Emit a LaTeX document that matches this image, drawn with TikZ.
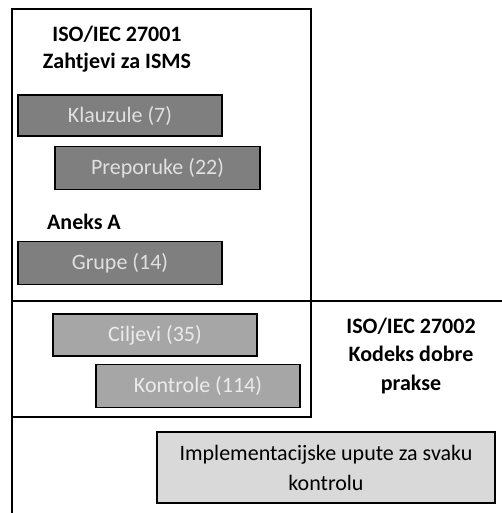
\documentclass[tikz,border=0pt]{standalone}
\usepackage{fontspec}
\setmainfont{Carlito}
\usetikzlibrary{positioning}
\definecolor{tamna}{HTML}{7F7F7F}
\definecolor{srednja}{HTML}{A6A6A6}
\definecolor{svijetla}{HTML}{D9D9D9}
\tikzset{x=1pt, y=-1pt, % pixel-like units, y grows downwards
every node/.style={font=\fontsize{22}{30}\selectfont},
okvir/.style={line width=1.6pt}, % Outer frames of the two standards
naslov/.style={font=\bfseries\fontsize{22}{28.5}\selectfont, align=center},
kutija/.style={ % Sets the properties for each coloured box
draw, line width=1.6pt, minimum width=204pt, minimum height=43pt, inner sep=0pt},
tamnakutija/.style={kutija, fill=tamna, text=white!88!black},
srednjakutija/.style={kutija, fill=srednja, text=white!92!black},
svijetlakutija/.style={kutija, fill=svijetla, text=black, align=center,
minimum width=338pt, minimum height=71pt}}

\begin{document}
\begin{tikzpicture}
    \useasboundingbox (0,0) rectangle (501,513);

    % frames
    \draw[okvir] (12,9) rectangle (311,417);
    \draw[okvir] (12,301) -- (503,301);
    \draw[okvir] (12,301) -- (12,515);

    \node[naslov] (iso1) at (117,34) {ISO/IEC 27001};
    \node[naslov] (zahtjevi) at (117,63) {Zahtjevi za ISMS};
    \node[naslov] (aneks) at (84,222) {Aneks A};
    \node[naslov] (iso2) at (411,356) {ISO/IEC 27002\\Kodeks dobre\\prakse};

    \node[tamnakutija, minimum height=41pt] (klauzule) at (120,115.5) {Klauzule (7)};
    \node[tamnakutija, minimum width=205pt] (preporuke) at (157.5,168) {Preporuke (22)};
    \node[tamnakutija] (grupe) at (120,263) {Grupe (14)};

    \node[srednjakutija, minimum height=42pt] (ciljevi) at (155,335) {Ciljevi (35)};
    \node[srednjakutija] (kontrole) at (198,386) {Kontrole (114)};

    \node[svijetlakutija] (upute) at (326,467.5) {Implementacijske upute za svaku\\kontrolu};

\end{tikzpicture}
\end{document}
